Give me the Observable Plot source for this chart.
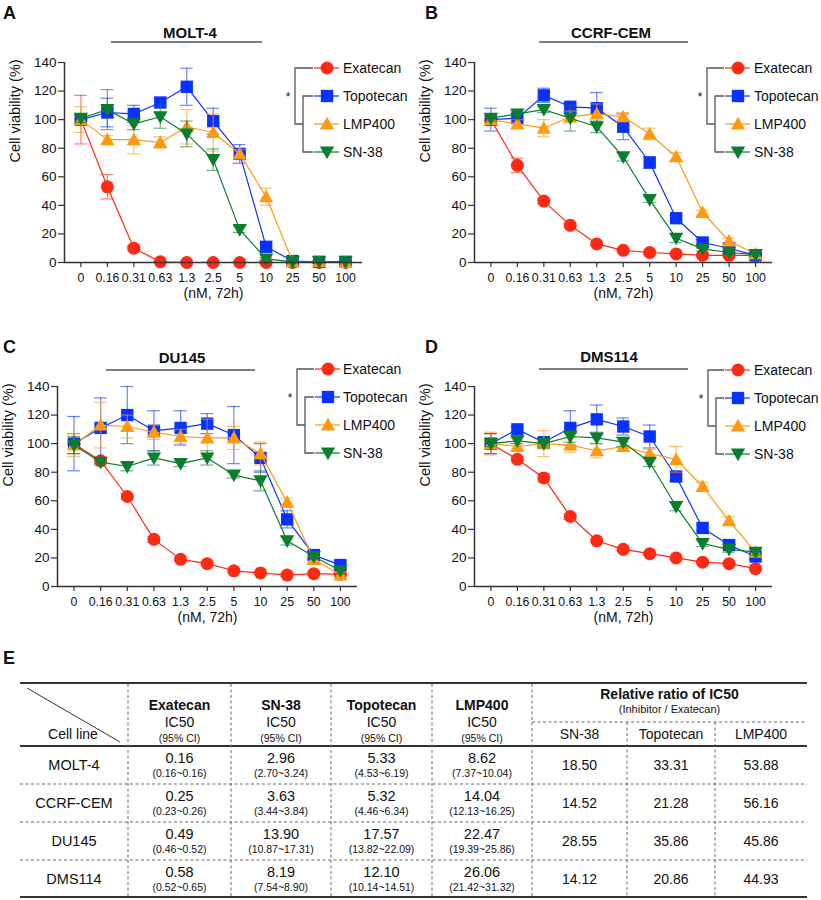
<!DOCTYPE html>
<html><head><meta charset="utf-8">
<script src="https://cdn.jsdelivr.net/npm/d3@7"></script>
<script src="https://cdn.jsdelivr.net/npm/@observablehq/plot@0.6"></script>
<style>
body{margin:0;background:#fff;font-family:"Liberation Sans",Arial,sans-serif;}
#wrap{position:relative;width:821px;height:900px;overflow:hidden;background:#fff;}
.panel{position:absolute;}
#overlay{position:absolute;left:0;top:0;pointer-events:none;}
</style></head><body><div id="wrap"></div>
<script>
// ---------- data ----------
const doses = ["0","0.16","0.31","0.63","1.3","2.5","5","10","25","50","100"];
const drugs = ["Exatecan","Topotecan","LMP400","SN-38"];
const colors = ["#ff2a14","#0a32ff","#ff9912","#0b7d2e"];
const yTicks = [0,20,40,60,80,100,120,140];
const panelNames = ["MOLT-4","CCRF-CEM","DU145","DMS114"];
const panelLetters = ["A","B","C","D"];

// means, order: Exatecan, Topotecan, LMP400, SN-38
const molt4Means = [
  [100,53,10,0.5,0,0,0,0,0,0,0],
  [100,105,104,112,123,99,76,11,1,0.5,0.5],
  [100,86,86,84,95,91,76,46,0.5,0.5,0],
  [101,107,97,102,90,72,23,2.5,0.5,0.5,0.5]
];
const molt4Errs = [
  [17,8.5,1.5,0.5,0.5,0.5,0.5,0.5,0.5,0.5,0.5],
  [3,10,6,3,13,9,6.5,2.5,1,0.5,0.5],
  [9,3,10,4,12,13,3,6,0.5,0.5,0.5],
  [3,14,4,8,9,7.5,2,1,0.5,0.5,0.5]
];
const ccrfMeans = [
  [100,68,43,26,13,8.5,7,6,5,5,5],
  [100,101,117,109,108,95,70,31,14,10,5],
  [100,97,94,102,104,102,90,74,35,15,6],
  [101,104,107,101,95,74,44,17,9.5,7,5.5]
];
const ccrfErrs = [
  [2,5,2,1.5,1,1,1,1,1,1,1],
  [8,3,5,3,11,9,4,2,2,2,2],
  [2,3,6,4,7,3,4,3,1.5,2,2],
  [2,2,2,9,4,3,2,3,1.5,1,1]
];
const du145Means = [
  [100,88,63,33,19,16,11,9.5,8,9,8.5],
  [100,111,120,109,111,114,106,90,47,22,15],
  [99,113,112,108,105,104,104,93,59,19,8],
  [99,87,84,90,86,90,78,74,32,21,11]
];
const du145Errs = [
  [7,2,2,2,1,1,1,1,1,1,1],
  [19,21,20,14,12,7,20,10,6,2,3],
  [8,16,8,5,5,13,8,8,3,2,2],
  [6,2,3,5,2,5,2,7,3,2,2]
];
const dms114Means = [
  [100,89,76,49,32,26,23,20,17,16,12.5],
  [100,110,101,111,117,112,105,77,41,29,21],
  [100,98,100,99,95,98,93,89,70,46,24],
  [100,102,100,105,104,101,87,56,30,26,24]
];
const dms114Errs = [
  [7,1.5,3,2,1,1,1,1,1,1,1],
  [7,2,3,12,10,6,8,3,2,2,2],
  [8,2,9,5,5,3.5,3,9,3,3,2],
  [2,2,3,4,4,3,3,3,2,2,2]
];

// table
const cellLines = ["MOLT-4","CCRF-CEM","DU145","DMS114"];
const ic50Drugs = ["Exatecan","SN-38","Topotecan","LMP400"];
const exatecanIC50 = ["0.16","0.25","0.49","0.58"];
const exatecanCI = ["(0.16~0.16)","(0.23~0.26)","(0.46~0.52)","(0.52~0.65)"];
const sn38IC50 = ["2.96","3.63","13.90","8.19"];
const sn38CI = ["(2.70~3.24)","(3.44~3.84)","(10.87~17.31)","(7.54~8.90)"];
const topoIC50 = ["5.33","5.32","17.57","12.10"];
const topoCI = ["(4.53~6.19)","(4.46~6.34)","(13.82~22.09)","(10.14~14.51)"];
const lmpIC50 = ["8.62","14.04","22.47","26.06"];
const lmpCI = ["(7.37~10.04)","(12.13~16.25)","(19.39~25.86)","(21.42~31.32)"];
const ratioDrugs = ["SN-38","Topotecan","LMP400"];
const ratioSN38 = ["18.50","14.52","28.55","14.12"];
const ratioTopo = ["33.31","21.28","35.86","20.86"];
const ratioLMP = ["53.88","56.16","45.86","44.93"];

// ---------- symbols ----------
const symCircle = {draw(c,s){const r=Math.sqrt(s/Math.PI);c.moveTo(r,0);c.arc(0,0,r,0,2*Math.PI);}};
const symSquare = {draw(c,s){const r=Math.sqrt(s/Math.PI)*0.95;c.rect(-r,-r,2*r,2*r);}};
const symUp = {draw(c,s){const r=Math.sqrt(s/Math.PI);c.moveTo(0,-r*1.1);c.lineTo(r*1.1,r*0.85);c.lineTo(-r*1.1,r*0.85);c.closePath();}};
const symDown = {draw(c,s){const r=Math.sqrt(s/Math.PI);c.moveTo(0,r*1.1);c.lineTo(r*1.1,-r*0.85);c.lineTo(-r*1.1,-r*0.85);c.closePath();}};
const symbols = [symCircle,symSquare,symUp,symDown];

const FONT = '"Liberation Sans", Arial, sans-serif';
const wrap = document.getElementById("wrap");

const panels = [
  {means: molt4Means, errs: molt4Errs, left:0, top:0, ml:64, mr:48},
  {means: ccrfMeans, errs: ccrfErrs, left:410, top:0, ml:64, mr:48},
  {means: du145Means, errs: du145Errs, left:0, top:324, ml:57, mr:53},
  {means: dms114Means, errs: dms114Errs, left:410, top:324, ml:64, mr:48}
];
const XMIN = -0.62, XMAX = 10.64, CAP = 0.24;

panels.forEach((p) => {
  const marks = [];
  drugs.forEach((drug, k) => {
    const rows = doses.map((d, i) => ({i, v: p.means[k][i], e: p.errs[k][i]}));
    const col = colors[k];
    marks.push(
      Plot.ruleX(rows, {x: "i", y1: d => d.v - d.e, y2: d => d.v + d.e, stroke: col, strokeOpacity: 0.6, strokeWidth: 1.2}),
      Plot.ruleY(rows, {y: d => d.v + d.e, x1: d => d.i - CAP, x2: d => d.i + CAP, stroke: col, strokeOpacity: 0.6, strokeWidth: 1.2}),
      Plot.ruleY(rows, {y: d => d.v - d.e, x1: d => d.i - CAP, x2: d => d.i + CAP, stroke: col, strokeOpacity: 0.6, strokeWidth: 1.2}),
      Plot.line(rows, {x: "i", y: "v", stroke: col, strokeWidth: 1.2}),
      Plot.dot(rows, {x: "i", y: "v", symbol: symbols[k], r: 6.5, fill: col, stroke: "none"})
    );
  });
  const chart = Plot.plot({
    width: 410, height: 310,
    marginLeft: p.ml, marginRight: p.mr, marginTop: 62, marginBottom: 48,
    style: {fontFamily: FONT, fontSize: "13px", color: "#111", background: "transparent", overflow: "visible"},
    x: {domain: [XMIN, XMAX]},
    y: {domain: [0, 140]},
    marks: [
      Plot.axisX(d3.range(doses.length), {tickSize: 5, tickPadding: 6, tickFormat: i => doses[i], label: null, stroke: "#333", strokeWidth: 1.2, fontSize: 12.3}),
      Plot.axisY(yTicks, {tickSize: 6, tickPadding: 2, label: null, stroke: "#333", strokeWidth: 1.2, fontSize: 13.5}),
      Plot.text(["Cell viability (%)"], {frameAnchor: "left", rotate: -90, dx: -49, fontSize: 14.5, fill: "#111"}),
      Plot.text(["(nM, 72h)"], {frameAnchor: "bottom", dy: 35, fontSize: 14, fill: "#111"}),
      ...marks,
      Plot.ruleY([0], {stroke: "#333", strokeWidth: 1.5}),
      Plot.ruleX([XMIN], {stroke: "#333", strokeWidth: 1.5})
    ]
  });
  chart.classList.add("panel");
  chart.style.left = p.left + "px";
  chart.style.top = p.top + "px";
  wrap.appendChild(chart);
});

// ---------- overlay: titles, legends, letters, table ----------
const svg = d3.select(wrap).append("svg").attr("id","overlay")
  .attr("width",821).attr("height",900).style("font-family",FONT);

const letterPos = [[3,19],[425,19],[3,353],[425,353],[3,664]];
["A","B","C","D","E"].forEach((L,i)=>{
  svg.append("text").attr("x",letterPos[i][0]).attr("y",letterPos[i][1])
    .attr("font-size",18).attr("font-weight","bold").attr("fill","#111").text(L);
});

const titleLayout = [
  {cx:190, ty:32, by:42, x1:111, x2:262},
  {cx:611, ty:32, by:42, x1:539, x2:688},
  {cx:182, ty:357, by:370, x1:106, x2:255},
  {cx:609, ty:356, by:369, x1:539, x2:688}
];
const legendLayout = [
  {ox:295, ix:303, mx:327, tx:343, y0:68},
  {ox:707, ix:715, mx:738, tx:754, y0:68},
  {ox:297, ix:305, mx:328, tx:343, y0:369},
  {ox:708, ix:716, mx:738, tx:754, y0:370}
];
const rowGap = 28;
panelNames.forEach((name,pi)=>{
  const t = titleLayout[pi];
  svg.append("text").attr("x",t.cx).attr("y",t.ty).attr("text-anchor","middle")
    .attr("dominant-baseline","central").attr("font-size",15).attr("font-weight","bold").attr("fill","#111").text(name);
  svg.append("line").attr("x1",t.x1).attr("x2",t.x2).attr("y1",t.by).attr("y2",t.by)
    .attr("stroke","#555").attr("stroke-width",1.5);
  const L = legendLayout[pi];
  const ys = drugs.map((d,k)=>L.y0 + k*rowGap);
  const g = svg.append("g");
  const br = "#555";
  const inMid = (ys[1]+ys[3])/2;
  g.append("path").attr("d",`M${L.mx-14},${ys[0]}H${L.ox}V${inMid}H${L.ix}`).attr("fill","none").attr("stroke",br).attr("stroke-width",1.3);
  g.append("path").attr("d",`M${L.mx-14},${ys[1]}H${L.ix}V${ys[3]}H${L.mx-14}`).attr("fill","none").attr("stroke",br).attr("stroke-width",1.3);
  g.append("text").attr("x",L.ox-7).attr("y",ys[1]+1).attr("text-anchor","middle").attr("dominant-baseline","central")
    .attr("font-size",12).attr("fill","#111").text("*");
  drugs.forEach((d,k)=>{
    g.append("line").attr("x1",L.mx-13).attr("x2",L.mx+12).attr("y1",ys[k]).attr("y2",ys[k])
      .attr("stroke",colors[k]).attr("stroke-width",1.2);
    g.append("path").attr("transform",`translate(${L.mx},${ys[k]})`)
      .attr("d",d3.symbol(symbols[k], Math.PI*6.5*6.5)()).attr("fill",colors[k]);
    g.append("text").attr("x",L.tx).attr("y",ys[k]).attr("dominant-baseline","central")
      .attr("font-size",14).attr("fill","#111").text(d);
  });
});

// ---------- table ----------
const colX = [20,128,231,331,432,532,627,715,807];
const tTop = 683, tHead = 746, tSub = 722, tBot = 897;
const rowLines = [784,822,860];
const rowCenters = [765,803,841,878.5];
const T = svg.append("g").attr("fill","#111");
const dash = "3,2.5";
T.append("line").attr("x1",colX[0]).attr("x2",colX[8]).attr("y1",tTop).attr("y2",tTop).attr("stroke","#333").attr("stroke-width",2);
T.append("line").attr("x1",colX[0]).attr("x2",colX[8]).attr("y1",tHead).attr("y2",tHead).attr("stroke","#333").attr("stroke-width",2);
T.append("line").attr("x1",colX[0]).attr("x2",colX[8]).attr("y1",tBot).attr("y2",tBot).attr("stroke","#333").attr("stroke-width",2);
rowLines.forEach(y=>T.append("line").attr("x1",colX[0]).attr("x2",colX[8]).attr("y1",y).attr("y2",y)
  .attr("stroke","#666").attr("stroke-width",1).attr("stroke-dasharray",dash));
T.append("line").attr("x1",colX[5]).attr("x2",colX[8]).attr("y1",tSub).attr("y2",tSub)
  .attr("stroke","#666").attr("stroke-width",1).attr("stroke-dasharray",dash);
[1,2,3,4,5].forEach(c=>T.append("line").attr("x1",colX[c]).attr("x2",colX[c]).attr("y1",tTop+1).attr("y2",tBot-1)
  .attr("stroke","#666").attr("stroke-width",1).attr("stroke-dasharray",dash));
[6,7].forEach(c=>T.append("line").attr("x1",colX[c]).attr("x2",colX[c]).attr("y1",tSub).attr("y2",tBot-1)
  .attr("stroke","#666").attr("stroke-width",1).attr("stroke-dasharray",dash));
T.append("line").attr("x1",27).attr("y1",688).attr("x2",120).attr("y2",742).attr("stroke","#333").attr("stroke-width",1);

function txt(x,y,s,size,bold){
  T.append("text").attr("x",x).attr("y",y).attr("text-anchor","middle").attr("dominant-baseline","central")
    .attr("font-size",size).attr("font-weight",bold?"bold":"normal").attr("fill","#111").text(s);
}
const mid = c => (colX[c]+colX[c+1])/2;
txt(73,734,"Cell line",14,false);
ic50Drugs.forEach((d,j)=>{
  const cx = mid(j+1);
  txt(cx,705,d,14,true);
  txt(cx,722,"IC50",14,false);
  txt(cx,738,"(95% CI)",10.5,false);
});
txt((colX[5]+colX[8])/2,694,"Relative ratio of IC50",14,true);
txt((colX[5]+colX[8])/2,709,"(Inhibitor / Exatecan)",11,false);
ratioDrugs.forEach((d,j)=>txt(mid(5+j),734,d,14,false));

const icVals = [exatecanIC50, sn38IC50, topoIC50, lmpIC50];
const icCIs = [exatecanCI, sn38CI, topoCI, lmpCI];
const ratios = [ratioSN38, ratioTopo, ratioLMP];
cellLines.forEach((cl,r)=>{
  const yc = rowCenters[r];
  txt(mid(0),yc,cl,14.5,false);
  icVals.forEach((arr,j)=>{
    txt(mid(j+1),yc-7,arr[r],14.5,false);
    txt(mid(j+1),yc+8,icCIs[j][r],10.5,false);
  });
  ratios.forEach((arr,j)=>txt(mid(5+j),yc,arr[r],14,false));
});
</script></body></html>
